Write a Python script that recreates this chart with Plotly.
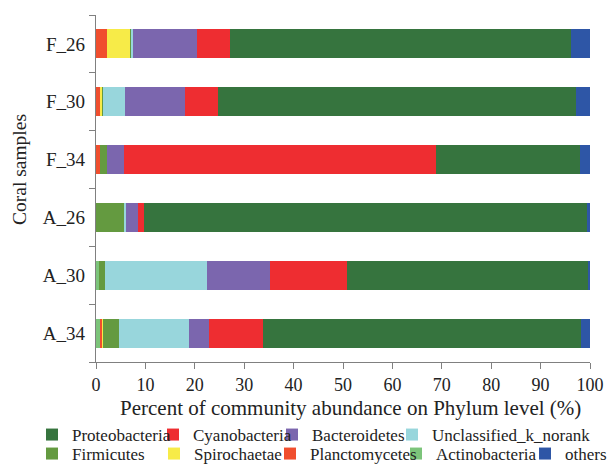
import plotly.graph_objects as go

samples = ["A_34", "A_30", "A_26", "F_34", "F_30", "F_26"]

actinobacteria = [1.0, 0.6, 0.0, 0.0, 0.0, 0.0]
planctomycetes = [0.3, 0.0, 0.0, 0.8, 0.8, 2.2]
spirochaetae = [0.2, 0.0, 0.0, 0.0, 0.5, 4.7]
firmicutes = [3.2, 1.2, 5.6, 1.5, 0.2, 0.3]
unclassified = [14.2, 20.6, 0.5, 0.0, 4.3, 0.2]
bacteroidetes = [4.0, 12.8, 2.5, 3.3, 12.2, 13.0]
cyanobacteria = [11.0, 15.7, 1.2, 63.2, 6.7, 6.7]
proteobacteria = [64.3, 48.6, 89.5, 29.2, 72.5, 69.1]
others = [1.8, 0.5, 0.7, 2.0, 2.8, 3.8]

x_ticks = [0, 10, 20, 30, 40, 50, 60, 70, 80, 90, 100]

FONT = "Liberation Serif"
W, H = 609, 464
L, R, T, B = 96, 19, 15, 102
PW, PH = W - L - R, H - T - B

# (name, values, color) in stacking order (left to right)
series = [
    ("Actinobacteria", actinobacteria, "#7CC47A"),
    ("Planctomycetes", planctomycetes, "#F04E2E"),
    ("Spirochaetae", spirochaetae, "#F7EB48"),
    ("Firmicutes", firmicutes, "#649A40"),
    ("Unclassified_k_norank", unclassified, "#98D6DC"),
    ("Bacteroidetes", bacteroidetes, "#7B66AE"),
    ("Cyanobacteria", cyanobacteria, "#EE2D31"),
    ("Proteobacteria", proteobacteria, "#36743E"),
    ("others", others, "#2E56A6"),
]

# legend entry placement (left px of entry, row centre px)
ROW1, ROW2 = 435, 454
legend_pos = {
    "Proteobacteria": (32, ROW1),
    "Cyanobacteria": (153, ROW1),
    "Bacteroidetes": (272, ROW1),
    "Unclassified_k_norank": (392, ROW1),
    "Firmicutes": (32, ROW2),
    "Spirochaetae": (154, ROW2),
    "Planctomycetes": (270, ROW2),
    "Actinobacteria": (396, ROW2),
    "others": (525, ROW2),
}

fig = go.Figure()
legend_layouts = {}
for i, (name, vals, color) in enumerate(series):
    lid = "legend" if i == 0 else f"legend{i + 1}"
    fig.add_trace(go.Bar(
        y=samples, x=vals, name=name, orientation="h",
        marker=dict(color=color, line=dict(width=0)),
        legend=lid, showlegend=True,
    ))
    px, py = legend_pos[name]
    legend_layouts[lid] = dict(
        orientation="h", xref="container", yref="container",
        x=px / W, y=1 - py / H, xanchor="left", yanchor="middle",
        itemwidth=30, font=dict(size=17, family=FONT, color="#222222"),
        bgcolor="rgba(0,0,0,0)", borderwidth=0,
    )

fig.update_layout(
    width=W, height=H, showlegend=True,
    barmode="stack", bargap=0.5,
    plot_bgcolor="white", paper_bgcolor="white",
    margin=dict(l=L, r=R, t=T, b=B, autoexpand=False),
    font=dict(family=FONT, color="#222222", size=15),
    xaxis=dict(
        range=[0, 100], tickvals=x_ticks, showgrid=False, zeroline=False,
        automargin=False,
        showline=True, linecolor="#808080", linewidth=1.2,
        ticks="outside", ticklen=6, tickcolor="#808080",
        tickfont=dict(size=18, family=FONT),
    ),
    yaxis=dict(
        categoryorder="array", categoryarray=samples,
        showgrid=False, zeroline=False, automargin=False,
        showline=True, linecolor="#808080", linewidth=1.2,
        ticks="outside", ticklen=6, tickcolor="#808080", tickson="boundaries",
        ticklabelstandoff=6,
        tickfont=dict(size=19, family=FONT),
    ),
    annotations=[
        dict(
            text="Coral samples", textangle=-90, showarrow=False,
            xref="paper", yref="paper", x=(20 - L) / PW, y=(H - B - 170) / PH,
            xanchor="center", yanchor="middle",
            font=dict(size=19.5, family=FONT, color="#222222"),
        ),
        dict(
            text="Percent of community abundance on Phylum level (%)", showarrow=False,
            xref="paper", yref="paper", x=(350 - L) / PW, y=(H - B - 408) / PH,
            xanchor="center", yanchor="middle",
            font=dict(size=21, family=FONT, color="#222222"),
        ),
    ],
    **legend_layouts,
)

fig.write_html("out.html", config={"displayModeBar": False},
               post_script="document.body.style.margin='0';")
